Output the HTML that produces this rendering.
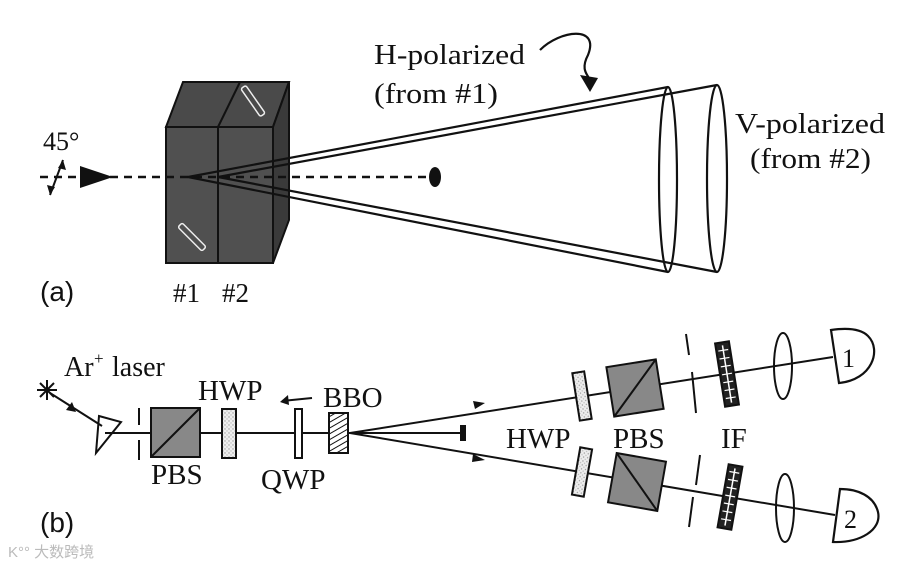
<!DOCTYPE html>
<html><head><meta charset="utf-8"><style>
html,body{margin:0;padding:0;background:#fff;}
svg{display:block;}
.t{font-family:"Liberation Serif",serif;fill:#111;}
.s{font-family:"Liberation Sans",sans-serif;fill:#111;}
</style></head><body>
<svg width="900" height="565" viewBox="0 0 900 565" xmlns="http://www.w3.org/2000/svg">
<defs>
<pattern id="dots" width="4" height="4" patternUnits="userSpaceOnUse"><rect width="4" height="4" fill="#eee"/><circle cx="1" cy="1" r="0.7" fill="#999"/><circle cx="3" cy="3" r="0.7" fill="#bbb"/></pattern>
<pattern id="hatch" width="5" height="5" patternUnits="userSpaceOnUse" patternTransform="rotate(60)"><rect width="5" height="5" fill="#fff"/><line x1="0" y1="0" x2="0" y2="5" stroke="#111" stroke-width="2"/></pattern>
</defs>
<!-- (a) crystal -->
<polygon points="166,127 183,82 289,82 273,127" fill="#4a4a4a" stroke="#111" stroke-width="2"/>
<polygon points="273,127 289,82 289,220 273,263" fill="#3a3a3a" stroke="#111" stroke-width="2"/>
<rect x="166" y="127" width="107" height="136" fill="#505050" stroke="#111" stroke-width="2"/>
<line x1="218" y1="127" x2="240" y2="82" stroke="#111" stroke-width="2"/>
<line x1="218" y1="127" x2="218" y2="263" stroke="#111" stroke-width="2"/>
<rect x="250" y="84" width="6" height="34" rx="2" fill="none" stroke="#eee" stroke-width="1.5" transform="rotate(-35 253 101)"/>
<rect x="189" y="220" width="6" height="34" rx="2" fill="none" stroke="#eee" stroke-width="1.5" transform="rotate(-45 192 237)"/>
<!-- beam -->
<line x1="40" y1="177" x2="430" y2="177" stroke="#111" stroke-width="2.5" stroke-dasharray="8,6"/>
<polygon points="80,166 113,177 80,188" fill="#111"/>
<line x1="50" y1="195" x2="63" y2="160" stroke="#111" stroke-width="2"/>
<polygon points="63,160 58,168 66,170" fill="#111"/><polygon points="50,195 55,187 47,185" fill="#111"/>
<ellipse cx="435" cy="177" rx="6" ry="10" fill="#111"/>
<!-- cones -->
<g stroke="#111" stroke-width="2.2" fill="none">
<line x1="188" y1="177" x2="668" y2="87"/><line x1="188" y1="177" x2="668" y2="272"/>
<line x1="218" y1="177" x2="717" y2="85"/><line x1="218" y1="177" x2="717" y2="272"/>
<ellipse cx="668" cy="179.5" rx="9" ry="92.5"/>
<ellipse cx="717" cy="178.5" rx="10" ry="93.5"/>
<path d="M540,50 C560,30 600,25 588,55 C580,70 588,75 590,80"/>
</g>
<polygon points="580,75 598,78 590,92" fill="#111"/>
<text class="t" x="374" y="64" font-size="29" textLength="151" lengthAdjust="spacingAndGlyphs">H-polarized</text>
<text class="t" x="374" y="103" font-size="29" textLength="124" lengthAdjust="spacingAndGlyphs">(from #1)</text>
<text class="t" x="735" y="133" font-size="29" textLength="150" lengthAdjust="spacingAndGlyphs">V-polarized</text>
<text class="t" x="750" y="168" font-size="29" textLength="121" lengthAdjust="spacingAndGlyphs">(from #2)</text>
<text class="t" x="43" y="150" font-size="26">45°</text>
<text class="s" x="40" y="301" font-size="28">(a)</text>
<text class="t" x="173" y="302" font-size="27">#1</text>
<text class="t" x="222" y="302" font-size="27">#2</text>
<!-- (b) -->
<g stroke="#111" stroke-width="2" fill="none">
<path d="M37,390 L57,390 M47,380 L47,400 M40,383 L54,397 M54,383 L40,397"/>
<line x1="50" y1="393" x2="102" y2="426"/>
<polygon points="99,416 121,422 96,453"/>
<line x1="105" y1="433" x2="462" y2="433"/>
<line x1="139" y1="408" x2="139" y2="425"/><line x1="139" y1="440" x2="139" y2="460"/>
<line x1="312" y1="398" x2="282" y2="401"/>
<line x1="350" y1="433" x2="833" y2="357"/>
<line x1="350" y1="433" x2="835" y2="515"/>
</g>
<polygon points="72,402 76,412 66,410" fill="#111"/>
<rect x="151" y="408" width="49" height="49" fill="#888" stroke="#111" stroke-width="2"/>
<line x1="151" y1="457" x2="200" y2="408" stroke="#111" stroke-width="2"/>
<rect x="222" y="409" width="14" height="49" fill="url(#dots)" stroke="#111" stroke-width="2"/>
<rect x="295" y="409" width="7" height="49" fill="#fff" stroke="#111" stroke-width="2"/>
<rect x="329" y="413" width="19" height="40" fill="url(#hatch)" stroke="#111" stroke-width="2"/>
<rect x="460" y="425" width="6" height="16" fill="#111"/>
<polygon points="280,402 288,395 289,405" fill="#111"/>
<polygon points="485,403 473,401 475,409" fill="#111"/>
<polygon points="485,460 473,454 472,462" fill="#111"/>
<!-- upper arm -->
<g transform="rotate(-9 582 396)"><rect x="576" y="372" width="12" height="48" fill="url(#dots)" stroke="#111" stroke-width="2"/></g>
<g transform="rotate(-9 635 388)"><rect x="610" y="363" width="50" height="50" fill="#888" stroke="#111" stroke-width="2"/><line x1="610" y1="413" x2="660" y2="363" stroke="#111" stroke-width="2"/></g>
<g stroke="#111" stroke-width="2"><line x1="686" y1="334" x2="689" y2="355"/><line x1="692" y1="372" x2="696" y2="413"/></g>
<g transform="rotate(-9 727 374)"><rect x="720" y="342" width="14" height="64" fill="#222" stroke="#111" stroke-width="2"/><line x1="727" y1="345" x2="727" y2="403" stroke="#fff" stroke-width="1.5"/><path d="M722,350h10M722,358h10M722,366h10M722,374h10M722,382h10M722,390h10M722,398h10" stroke="#fff" stroke-width="1.2"/></g>
<ellipse cx="783" cy="366" rx="9" ry="33" fill="none" stroke="#111" stroke-width="2"/>
<path d="M831,330 L839,383 C872,380 882,350 868,336 C860,328 845,328 831,330 Z" fill="#fff" stroke="#111" stroke-width="2.2"/>
<text class="t" x="842" y="367" font-size="26">1</text>
<!-- lower arm -->
<g transform="rotate(10 582 472)"><rect x="576" y="448" width="12" height="48" fill="url(#dots)" stroke="#111" stroke-width="2"/></g>
<g transform="rotate(10 637 482)"><rect x="612" y="457" width="50" height="50" fill="#888" stroke="#111" stroke-width="2"/><line x1="612" y1="457" x2="662" y2="507" stroke="#111" stroke-width="2"/></g>
<g stroke="#111" stroke-width="2"><line x1="700" y1="455" x2="696" y2="485"/><line x1="693" y1="497" x2="689" y2="527"/></g>
<g transform="rotate(10 730 497)"><rect x="723" y="465" width="14" height="64" fill="#222" stroke="#111" stroke-width="2"/><line x1="730" y1="468" x2="730" y2="526" stroke="#fff" stroke-width="1.5"/><path d="M725,472h10M725,480h10M725,488h10M725,496h10M725,504h10M725,512h10M725,520h10" stroke="#fff" stroke-width="1.2"/></g>
<ellipse cx="785" cy="508" rx="9" ry="34" fill="none" stroke="#111" stroke-width="2"/>
<path d="M840,489 L833,542 C860,543 882,530 878,512 C874,496 858,489 840,489 Z" fill="#fff" stroke="#111" stroke-width="2.2"/>
<text class="t" x="844" y="528" font-size="26">2</text>
<!-- labels -->
<text class="t" x="64" y="376" font-size="28">Ar</text><text class="t" x="94" y="364" font-size="17">+</text><text class="t" x="112" y="376" font-size="28">laser</text>
<text class="t" x="198" y="400" font-size="29">HWP</text>
<text class="t" x="323" y="407" font-size="29">BBO</text>
<text class="t" x="151" y="484" font-size="29">PBS</text>
<text class="t" x="261" y="489" font-size="29">QWP</text>
<text class="t" x="506" y="448" font-size="29">HWP</text>
<text class="t" x="613" y="448" font-size="29">PBS</text>
<text class="t" x="721" y="448" font-size="29">IF</text>
<text class="s" x="40" y="532" font-size="28">(b)</text>
<text x="8" y="557" font-size="15" fill="#bbb" font-family="'Liberation Sans','Noto Sans CJK SC',sans-serif">K°° 大数跨境</text>
</svg>
</body></html>
